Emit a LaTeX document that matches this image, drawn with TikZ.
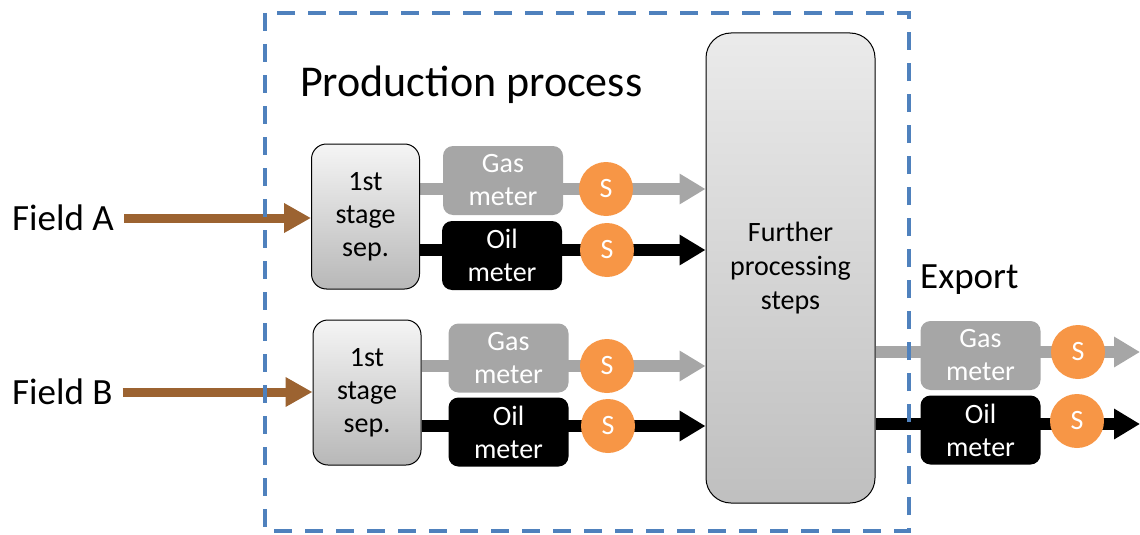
\documentclass[tikz,border=0pt]{standalone}
\usepackage{fontspec}
\setmainfont{Carlito}
\usetikzlibrary{arrows.meta,backgrounds}

\definecolor{fieldbrown}{HTML}{9C6331}
\definecolor{frameblue}{HTML}{4F81BD}
\definecolor{sensorange}{HTML}{F79646}
\definecolor{gasgrey}{HTML}{A6A6A6}

\begin{document}
\begin{tikzpicture}[x=1pt, y=-1pt,
  sepbox/.style={draw, line width=1pt, rounded corners=15pt, top color=black!4, bottom color=black!28,
    minimum width=108pt, minimum height=145pt, align=center, font=\fontsize{28}{33}\selectfont},
  gasmeter/.style={fill=gasgrey, rounded corners=10pt, text=white, minimum width=120pt, minimum height=69pt,
    align=center, font=\fontsize{28}{33}\selectfont},
  oilmeter/.style={gasmeter, fill=black},
  sensor/.style={circle, fill=sensorange, text=white, minimum size=54pt, inner sep=0pt, font=\fontsize{28}{32}\selectfont},
  fieldlabel/.style={anchor=west, inner xsep=10pt, inner ysep=0pt, font=\fontsize{37}{42}\selectfont},
  feed/.style={draw=fieldbrown, line width=9pt, -{Triangle[length=27pt, width=28pt]}},
  gasflow/.style={draw=gasgrey, line width=12pt, -{Triangle[length=26pt, width=29pt]}},
  oilflow/.style={draw=black, line width=12pt, -{Triangle[length=26pt, width=29pt]}}]
  \useasboundingbox (0,0) rectangle (1140,535);

  % separators and meters
  \node[sepbox] (sepA) at (365.5,216.5) {1st\\stage\\sep.};
  \node[sepbox] (sepB) at (367,392.5) {1st\\stage\\sep.};
  \node[gasmeter] (gasA) at (503,180.5) {Gas\\meter};
  \node[oilmeter] (oilA) at (502,255.5) {Oil\\meter};
  \node[gasmeter] (gasB) at (508.5,358) {Gas\\meter};
  \node[oilmeter] (oilB) at (508.5,432) {Oil\\meter};
  \node[sensor] (sA1) at (606,189) {S};
  \node[sensor] (sA2) at (607,250) {S};
  \node[sensor] (sB1) at (607,366) {S};
  \node[sensor] (sB2) at (608,426) {S};

  \node[draw, line width=1pt, rounded corners=25pt, top color=black!8, bottom color=black!25,
    minimum width=169pt, minimum height=470pt, align=center, font=\fontsize{28}{34}\selectfont]
    (further) at (790.5,268) {Further\\processing\\steps};

  % export side
  \node[gasmeter] (gasX) at (980.5,355.5) {Gas\\meter};
  \node[oilmeter] (oilX) at (980.5,430) {Oil\\meter};
  \node[sensor] (sX1) at (1078,352) {S};
  \node[sensor] (sX2) at (1077,421) {S};
  \coordinate (outG) at (1140,352);
  \coordinate (outO) at (1140,424);

  \node[fieldlabel] (fieldA) at (2,218) {Field A};
  \node[fieldlabel] (fieldB) at (2,392) {Field B};
  \node[anchor=base west, inner sep=0pt, font=\fontsize{44}{50}\selectfont] (title) at (300,96) {Production process};
  \node[anchor=base west, inner sep=0pt, font=\fontsize{37}{44}\selectfont] (export) at (920,288) {Export};

  \begin{scope}[on background layer]
    \draw[feed] (fieldA.east) -- (sepA.west |- fieldA);
    \draw[feed] (fieldB.east) -- (sepB.west |- fieldB);
    \draw[gasflow] (sepA.east |- sA1) -- (further.west |- sA1);
    \draw[oilflow] (sepA.east |- sA2) -- (further.west |- sA2);
    \draw[gasflow] (sepB.east |- sB1) -- (further.west |- sB1);
    \draw[oilflow] (sepB.east |- sB2) -- (further.west |- sB2);
    \draw[gasflow] (further.east |- outG) -- (outG);
    \draw[oilflow] (further.east |- outO) -- (outO);
  \end{scope}

  % production process frame
  \draw[frameblue, line width=4pt, dash pattern=on 18pt off 13pt] (265,13) rectangle (909,531);
\end{tikzpicture}
\end{document}
